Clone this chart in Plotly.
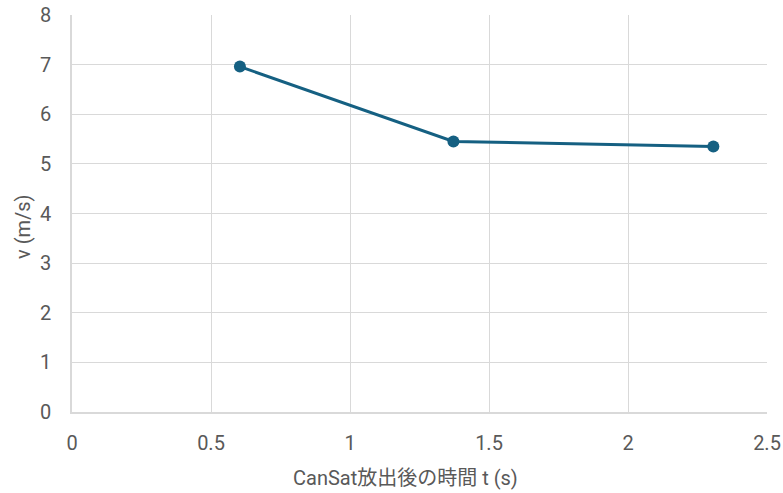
import plotly.graph_objects as go

# Elapsed time after CanSat release (s) and measured descent speed (m/s)
t_s = [0.604, 1.372, 2.307]
v_ms = [6.96, 5.45, 5.35]

x_ticks = [0, 0.5, 1, 1.5, 2, 2.5]
x_tick_text = ["0", "0.5", "1", "1.5", "2", "2.5"]
y_ticks = [0, 1, 2, 3, 4, 5, 6, 7, 8]

x_title = "CanSat放出後の時間 t (s)"
y_title = "v (m/s)"

FONT = "Roboto, Noto Sans CJK JP, sans-serif"
TEXT = "#595959"
GRID = "#D9D9D9"
LINE = "#156082"

W, H = 783, 493
M = dict(l=72, r=16, t=15, b=81)

fig = go.Figure(
    go.Scatter(
        x=t_s,
        y=v_ms,
        mode="lines+markers",
        line=dict(color=LINE, width=3),
        marker=dict(color=LINE, size=12),
        showlegend=False,
    )
)

fig.update_layout(
    width=W,
    height=H,
    margin=M,
    paper_bgcolor="white",
    plot_bgcolor="white",
    font=dict(family=FONT, color=TEXT, size=20),
)

axis_style = dict(
    showgrid=True,
    gridcolor=GRID,
    gridwidth=1.4,
    zeroline=False,
    showline=True,
    linecolor=GRID,
    linewidth=1.5,
    ticks="",
    automargin=False,
    tickfont=dict(size=20, color=TEXT),
)

fig.update_xaxes(range=[0, 2.5], tickvals=x_ticks, ticktext=x_tick_text,
                 ticklabelstandoff=12, **axis_style)
fig.update_yaxes(range=[0, 8], tickvals=y_ticks, ticklabelstandoff=15, **axis_style)

# Axis titles placed in paper pixels relative to the plotting area
pw = W - M["l"] - M["r"]
ph = H - M["t"] - M["b"]
fig.add_annotation(
    text=x_title, xref="paper", yref="paper",
    x=(405 - M["l"]) / pw, y=-(478 - (H - M["b"])) / ph,
    xanchor="center", yanchor="middle", showarrow=False,
    font=dict(family=FONT, size=20, color=TEXT),
)
fig.add_annotation(
    text=y_title, xref="paper", yref="paper",
    x=-(M["l"] - 23) / pw, y=((H - M["b"]) - 227) / ph,
    xanchor="center", yanchor="middle", textangle=-90, showarrow=False,
    font=dict(family=FONT, size=20, color=TEXT),
)

fig.write_html("out.html")
